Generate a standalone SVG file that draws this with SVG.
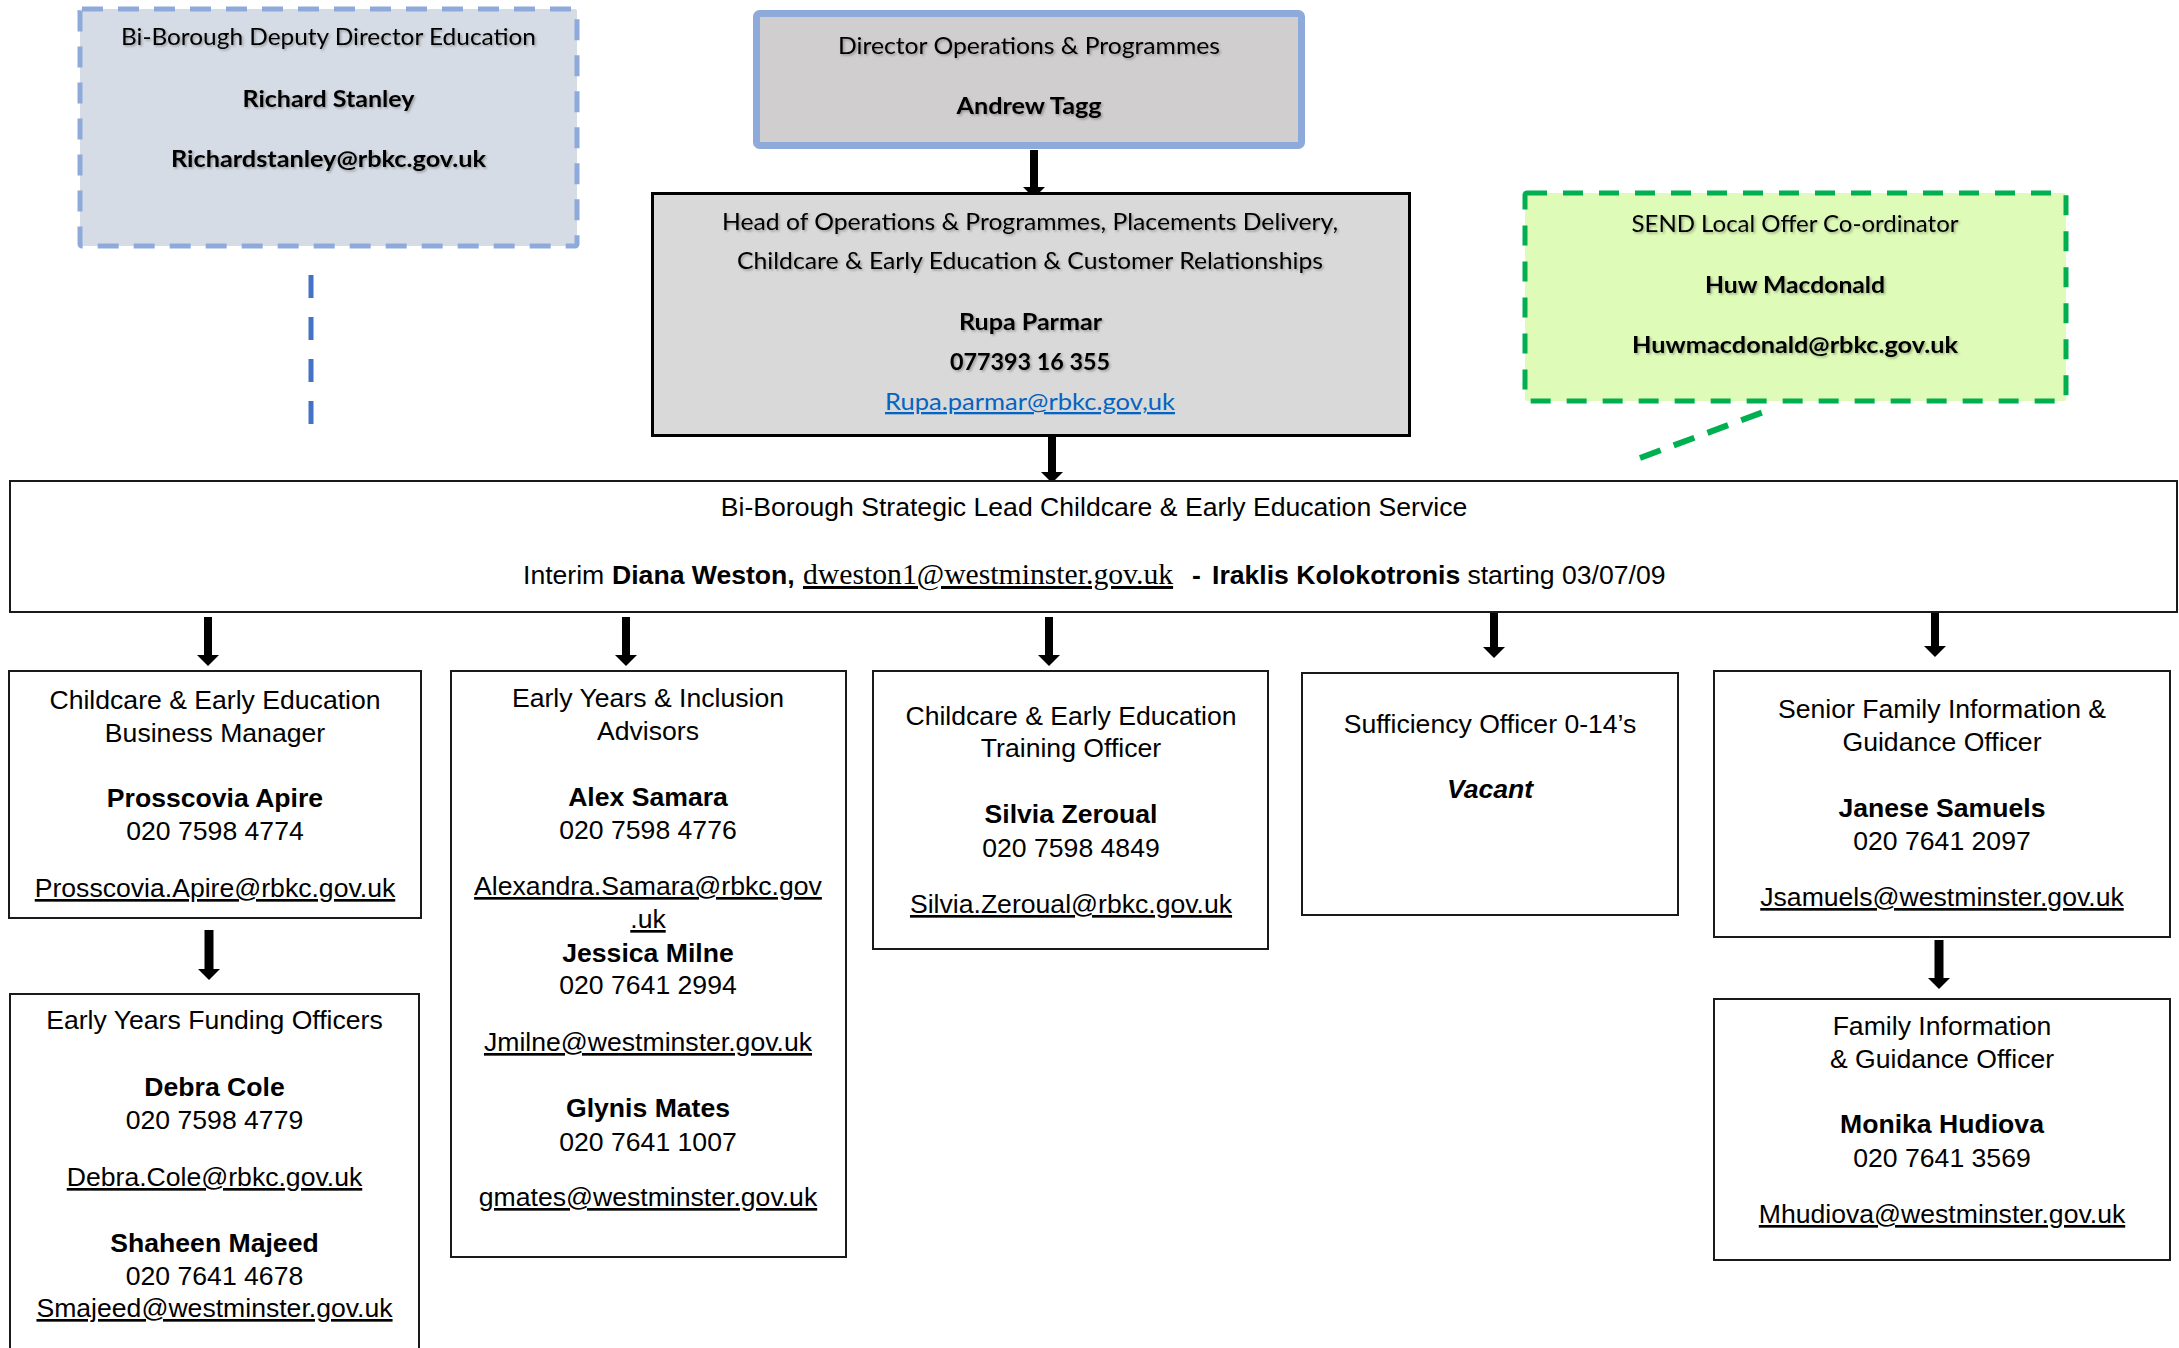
<svg xmlns="http://www.w3.org/2000/svg" width="2179" height="1348" viewBox="0 0 2179 1348">
<defs>
<style>
.cal { font-family: Lato, 'Open Sans', sans-serif; font-size: 23px; fill: #000; text-anchor: middle; }
.ar { font-family: 'Liberation Sans', Arial, sans-serif; font-size: 26.6px; fill: #000; text-anchor: middle; }
.tm { font-family: 'Liberation Serif', 'Times New Roman', serif; font-size: 29.7px; }
.b { font-weight: bold; }
.i { font-style: italic; }
.u { text-decoration: underline; }
.box { fill: #ffffff; stroke: #1a1a1a; stroke-width: 2; }
.arr { stroke: #000; stroke-width: 8; fill: none; marker-end: url(#ah); }
.arr9 { stroke: #000; stroke-width: 9; fill: none; marker-end: url(#ah); }
</style>
<marker id="ah" viewBox="0 0 11 22" refX="5" refY="11" markerWidth="11" markerHeight="22" markerUnits="userSpaceOnUse" orient="auto">
<path d="M0,0 L11,11 L0,22 Z" fill="#000"/>
</marker>
<filter id="sh" x="-5%" y="-30%" width="110%" height="160%">
<feDropShadow dx="1.5" dy="1.5" stdDeviation="0.8" flood-color="#000" flood-opacity="0.3"/>
</filter>
</defs>
<rect x="0" y="0" width="2179" height="1348" fill="#ffffff"/>

<g id="connectors">
<line x1="311" y1="275" x2="311" y2="424" stroke="#4472c4" stroke-width="5" stroke-dasharray="23 19"/>
<line x1="1640" y1="458" x2="1766" y2="411" stroke="#00b050" stroke-width="6" stroke-dasharray="22 14"/>
<line class="arr" x1="1034" y1="150" x2="1034" y2="192"/>
<line class="arr" x1="1052" y1="436" x2="1052" y2="477"/>
<line class="arr" x1="208" y1="617" x2="208" y2="660"/>
<line class="arr" x1="626" y1="617" x2="626" y2="660"/>
<line class="arr" x1="1049" y1="617" x2="1049" y2="660"/>
<line class="arr" x1="1494" y1="608" x2="1494" y2="652"/>
<line class="arr" x1="1935" y1="610" x2="1935" y2="651"/>
<line class="arr9" x1="209" y1="930" x2="209" y2="974"/>
<line class="arr9" x1="1939" y1="940" x2="1939" y2="983"/>
</g>

<g id="deputy-director">
<rect x="80" y="9" width="497" height="237" rx="2" fill="#d6dce5" stroke="#8eaadb" stroke-width="5" stroke-dasharray="21 15" stroke-linejoin="round"/>
<g filter="url(#sh)">
<text class="cal" x="328.5" y="45" textLength="415" lengthAdjust="spacingAndGlyphs">Bi-Borough Deputy Director Education</text>
<text class="cal b" x="328.5" y="107" textLength="172" lengthAdjust="spacingAndGlyphs">Richard Stanley</text>
<text class="cal b" x="328.5" y="167" textLength="315" lengthAdjust="spacingAndGlyphs">Richardstanley@rbkc.gov.uk</text>
</g>
</g>

<g id="director-operations">
<rect x="756.5" y="13.5" width="545" height="132" rx="3" fill="#d0cece" stroke="#8eaadb" stroke-width="7"/>
<g filter="url(#sh)">
<text class="cal" x="1029" y="54" textLength="382" lengthAdjust="spacingAndGlyphs">Director Operations &amp; Programmes</text>
<text class="cal b" x="1029" y="114" textLength="145" lengthAdjust="spacingAndGlyphs">Andrew Tagg</text>
</g>
</g>

<g id="head-operations">
<rect x="652.5" y="193.5" width="757" height="242" fill="#d9d9d9" stroke="#000" stroke-width="3"/>
<g filter="url(#sh)">
<text class="cal" x="1030" y="230" textLength="616" lengthAdjust="spacingAndGlyphs">Head of Operations &amp; Programmes, Placements Delivery,</text>
<text class="cal" x="1030" y="269" textLength="586" lengthAdjust="spacingAndGlyphs">Childcare &amp; Early Education &amp; Customer Relationships</text>
<text class="cal b" x="1030.5" y="330" textLength="143" lengthAdjust="spacingAndGlyphs">Rupa Parmar</text>
<text class="cal b" x="1030" y="370" textLength="160" lengthAdjust="spacingAndGlyphs">077393 16 355</text>
</g>
<text class="cal u" x="1030" y="410" style="fill:#0563c1" textLength="290" lengthAdjust="spacingAndGlyphs">Rupa.parmar@rbkc.gov,uk</text>
</g>

<g id="send-coordinator">
<rect x="1525" y="193" width="541" height="208" rx="2" fill="#defbb8" stroke="#00b050" stroke-width="5" stroke-dasharray="20 16" stroke-linejoin="round"/>
<g filter="url(#sh)">
<text class="cal" x="1795" y="232" textLength="327" lengthAdjust="spacingAndGlyphs">SEND Local Offer Co-ordinator</text>
<text class="cal b" x="1795" y="293" textLength="180" lengthAdjust="spacingAndGlyphs">Huw Macdonald</text>
<text class="cal b" x="1795" y="353" textLength="326" lengthAdjust="spacingAndGlyphs">Huwmacdonald@rbkc.gov.uk</text>
</g>
</g>

<g id="strategic-lead">
<rect class="box" x="10" y="481" width="2167" height="131"/>
<text class="ar" x="1094" y="516">Bi-Borough Strategic Lead Childcare &amp; Early Education Service</text>
<text class="ar" style="text-anchor:start" y="584"><tspan x="523">Interim </tspan><tspan x="612" class="b">Diana Weston,</tspan><tspan x="803" class="tm u">dweston1@westminster.gov.uk</tspan><tspan x="1192" class="b">-</tspan><tspan x="1212" class="b">Iraklis Kolokotronis</tspan><tspan x="1460"> starting 03/07/09</tspan></text>
</g>

<g id="business-manager">
<rect class="box" x="9" y="671" width="412" height="247"/>
<text class="ar" x="215" y="709">Childcare &amp; Early Education</text>
<text class="ar" x="215" y="742">Business Manager</text>
<text class="ar b" x="215" y="807">Prosscovia Apire</text>
<text class="ar" x="215" y="840">020 7598 4774</text>
<text class="ar u" x="215" y="897">Prosscovia.Apire@rbkc.gov.uk</text>
</g>

<g id="inclusion-advisors">
<rect class="box" x="451" y="671" width="395" height="586"/>
<text class="ar" x="648" y="707">Early Years &amp; Inclusion</text>
<text class="ar" x="648" y="740">Advisors</text>
<text class="ar b" x="648" y="806">Alex Samara</text>
<text class="ar" x="648" y="839">020 7598 4776</text>
<text class="ar u" x="648" y="895">Alexandra.Samara@rbkc.gov</text>
<text class="ar u" x="648" y="928">.uk</text>
<text class="ar b" x="648" y="962">Jessica Milne</text>
<text class="ar" x="648" y="994">020 7641 2994</text>
<text class="ar u" x="648" y="1051">Jmilne@westminster.gov.uk</text>
<text class="ar b" x="648" y="1117">Glynis Mates</text>
<text class="ar" x="648" y="1151">020 7641 1007</text>
<text class="ar u" x="648" y="1206">gmates@westminster.gov.uk</text>
</g>

<g id="training-officer">
<rect class="box" x="873" y="671" width="395" height="278"/>
<text class="ar" x="1071" y="725">Childcare &amp; Early Education</text>
<text class="ar" x="1071" y="757">Training Officer</text>
<text class="ar b" x="1071" y="823">Silvia Zeroual</text>
<text class="ar" x="1071" y="857">020 7598 4849</text>
<text class="ar u" x="1071" y="913">Silvia.Zeroual@rbkc.gov.uk</text>
</g>

<g id="sufficiency-officer">
<rect class="box" x="1302" y="673" width="376" height="242"/>
<text class="ar" x="1490" y="733">Sufficiency Officer 0-14’s</text>
<text class="ar b i" x="1490" y="798">Vacant</text>
</g>

<g id="senior-family-info">
<rect class="box" x="1714" y="671" width="456" height="266"/>
<text class="ar" x="1942" y="718">Senior Family Information &amp;</text>
<text class="ar" x="1942" y="751">Guidance Officer</text>
<text class="ar b" x="1942" y="817">Janese Samuels</text>
<text class="ar" x="1942" y="850">020 7641 2097</text>
<text class="ar u" x="1942" y="906">Jsamuels@westminster.gov.uk</text>
</g>

<g id="family-info">
<rect class="box" x="1714" y="999" width="456" height="261"/>
<text class="ar" x="1942" y="1035">Family Information</text>
<text class="ar" x="1942" y="1068">&amp; Guidance Officer</text>
<text class="ar b" x="1942" y="1133">Monika Hudiova</text>
<text class="ar" x="1942" y="1167">020 7641 3569</text>
<text class="ar u" x="1942" y="1223">Mhudiova@westminster.gov.uk</text>
</g>

<g id="funding-officers">
<rect class="box" x="10" y="994" width="409" height="370"/>
<text class="ar" x="214.5" y="1029">Early Years Funding Officers</text>
<text class="ar b" x="214.5" y="1096">Debra Cole</text>
<text class="ar" x="214.5" y="1129">020 7598 4779</text>
<text class="ar u" x="214.5" y="1186">Debra.Cole@rbkc.gov.uk</text>
<text class="ar b" x="214.5" y="1252">Shaheen Majeed</text>
<text class="ar" x="214.5" y="1285">020 7641 4678</text>
<text class="ar u" x="214.5" y="1317">Smajeed@westminster.gov.uk</text>
</g>
</svg>
